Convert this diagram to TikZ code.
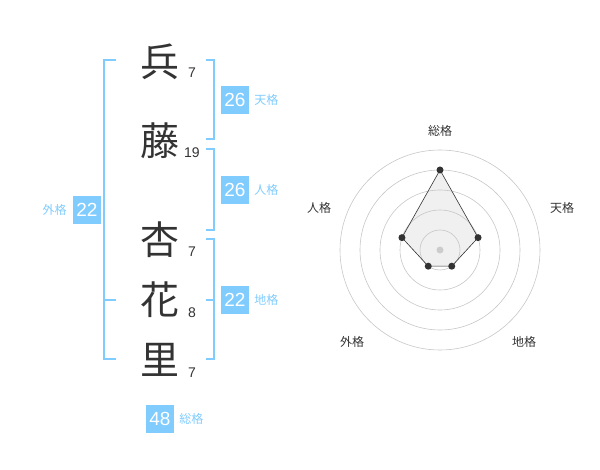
\documentclass[tikz,border=0pt]{standalone}
\usepackage{fontspec}
\setmainfont{Liberation Sans}
\newfontfamily\jp{Noto Sans CJK JP}
\usepackage{xcolor}
\usepackage{tikz}
\usetikzlibrary{positioning,calc}
\definecolor{kakublue}{HTML}{80CCFF}
\definecolor{inkgray}{HTML}{333333}

\begin{document}
\begin{tikzpicture}[x=1pt, y=-1pt,
  kanji/.style={font=\jp\fontsize{39}{39}\selectfont, text=inkgray, inner sep=0pt},
  strokes/.style={font=\fontsize{14}{14}\selectfont, text=inkgray, inner sep=0pt},
  score/.style={fill=kakublue, text=white, minimum width=28pt, minimum height=28pt, inner sep=0pt, font=\fontsize{19}{19}\selectfont},
  kaku/.style={font=\jp\fontsize{12}{12}\selectfont, text=kakublue, inner sep=0pt},
  bracket/.style={draw=kakublue, line width=2pt},
  ring/.style={draw=black!22, line width=0.6pt},
  axis_label/.style={font=\jp\fontsize{12}{12}\selectfont, text=inkgray, inner sep=0pt},
  dot/.style={circle, fill=inkgray, inner sep=0pt, minimum size=7pt}
]
  \useasboundingbox (0,0) rectangle (600,470);

  % name
  \node[kanji] (k1) at (160,62) {兵};
  \node[kanji] (k2) at (160,141) {藤};
  \node[kanji] (k3) at (160,240) {杏};
  \node[kanji] (k4) at (160,300) {花};
  \node[kanji] (k5) at (160,360) {里};
  \node[strokes] (s1) at (192,73) {7};
  \node[strokes] (s2) at (192,153) {19};
  \node[strokes] (s3) at (192,252) {7};
  \node[strokes] (s4) at (192,313) {8};
  \node[strokes] (s5) at (192,373) {7};

  % brackets
  \draw[bracket] (116,60) -- (104,60) -- (104,359) -- (116,359);
  \draw[bracket] (104,300) -- (116,300);
  \draw[bracket] (206,60) -- (214,60) -- (214,139) -- (206,139);
  \draw[bracket] (206,149) -- (214,149) -- (214,230) -- (206,230);
  \draw[bracket] (206,239) -- (214,239) -- (214,359) -- (206,359);
  \draw[bracket] (206,300) -- (214,300);

  % scores
  \node[score] (ten) at (235,100) {26};
  \node[kaku, right=5pt of ten] (ten_l) {天格};
  \node[score] (jin) at (235,190) {26};
  \node[kaku, right=5pt of jin] (jin_l) {人格};
  \node[score] (chi) at (235,300) {22};
  \node[kaku, right=5pt of chi] (chi_l) {地格};
  \node[score] (gai) at (87,210) {22};
  \node[kaku, left=6pt of gai] (gai_l) {外格};
  \node[score] (so) at (160,419) {48};
  \node[kaku, right=5pt of so] (so_l) {総格};

  % radar
  \coordinate (hub) at (440,250);
  \coordinate (p_so) at ([shift={(-90:80)}]hub);
  \coordinate (p_ten) at ([shift={(-18:40)}]hub);
  \coordinate (p_chi) at ([shift={(54:20)}]hub);
  \coordinate (p_gai) at ([shift={(126:20)}]hub);
  \coordinate (p_jin) at ([shift={(198:40)}]hub);
  \fill[black!6] (p_so) -- (p_ten) -- (p_chi) -- (p_gai) -- (p_jin) -- cycle;
  \foreach \r in {20,40,60,80,100}
    \draw[ring] (hub) circle[radius=\r];
  \draw[draw=inkgray, line width=0.6pt]
    (p_so) -- (p_ten) -- (p_chi) -- (p_gai) -- (p_jin) -- cycle;
  \node[circle, fill=black!20, inner sep=0pt, minimum size=7pt] (hub_dot) at (hub) {};
  \foreach \p in {p_so,p_ten,p_chi,p_gai,p_jin}
    \node[dot] at (\p) {};
  \node[axis_label] (a_so) at (440,131) {総格};
  \node[axis_label] (a_ten) at (562,208) {天格};
  \node[axis_label] (a_chi) at (524,342) {地格};
  \node[axis_label] (a_gai) at (352,342) {外格};
  \node[axis_label] (a_jin) at (319,208) {人格};
\end{tikzpicture}
\end{document}
